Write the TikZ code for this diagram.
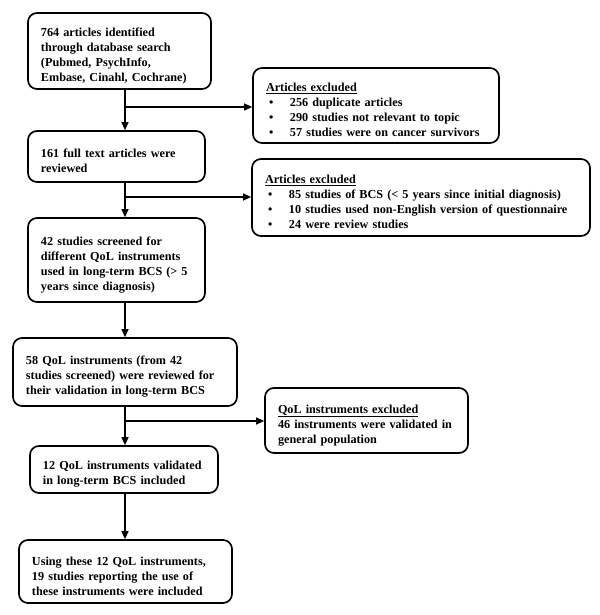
\documentclass[tikz,border=0pt]{standalone}
\usepackage{fontspec}
\setmainfont{Liberation Serif}
\usetikzlibrary{arrows.meta}
\newcommand{\bl}{\hspace*{5bp}\makebox[21bp][l]{\textbullet}}
\begin{document}
\begin{tikzpicture}[x=1bp,y=-1bp,
  box/.style={draw, line width=1.7bp, rounded corners=9bp, align=left,
    inner xsep=11bp, inner ysep=0bp, anchor=center,
    execute at begin node={\hyphenpenalty=10000\exhyphenpenalty=10000\rule{0pt}{18bp}},
    font=\fontsize{12.2bp}{15bp}\selectfont\bfseries},
  arr/.style={line width=1.2bp, -{Triangle[length=8bp,width=7bp]}}]
\useasboundingbox (0,0) rectangle (600,615);
\node[box, minimum width=183bp, minimum height=76bp, text width=161bp] (b1) at (119.5,51)
  {\hspace*{2bp}764 articles identified\\\hspace*{2bp}through database search\\\hspace*{2bp}(Pubmed, PsychInfo,\\\hspace*{2bp}Embase, Cinahl, Cochrane)};
\node[box, minimum width=177bp, minimum height=51bp, text width=155bp] (b2) at (116.5,156.5)
  {\hspace*{2bp}161 full text articles were\\\hspace*{2bp}reviewed};
\node[box, minimum width=177bp, minimum height=84bp, text width=155bp] (b3) at (116.5,260)
  {\hspace*{2bp}42 studies screened for\\\hspace*{2bp}different QoL instruments\\\hspace*{2bp}used in long-term BCS (> 5\\\hspace*{2bp}years since diagnosis)};
\node[box, minimum width=224bp, minimum height=68bp, text width=202bp] (b4) at (125,372)
  {\hspace*{2bp}58 QoL instruments (from 42\\\hspace*{2bp}studies screened) were reviewed for\\\hspace*{2bp}their validation in long-term BCS};
\node[box, minimum width=188bp, minimum height=47bp, text width=166bp] (b5) at (124,469.5)
  {\hspace*{2bp}12 QoL instruments validated\\\hspace*{2bp}in long-term BCS included};
\node[box, minimum width=213bp, minimum height=63bp, text width=191bp] (b6) at (125.5,571.5)
  {\hspace*{2bp}Using these 12 QoL instruments,\\\hspace*{2bp}19 studies reporting the use of\\\hspace*{2bp}these instruments were included};
\node[box, minimum width=246bp, minimum height=75bp, text width=224bp] (r1) at (376,105.5)
  {\hspace*{2bp}\underline{Articles excluded}\\\bl 256 duplicate articles\\\bl 290 studies not relevant to topic\\\bl 57 studies were on cancer survivors};
\node[box, minimum width=338bp, minimum height=77bp, text width=316bp] (r2) at (421,197.5)
  {\hspace*{2bp}\underline{Articles excluded}\\\bl 85 studies of BCS (< 5 years since initial diagnosis)\\\bl 10 studies used non-English version of questionnaire\\\bl 24 were review studies};
\node[box, minimum width=203bp, minimum height=65bp, text width=181bp] (r3) at (366.5,420.5)
  {\hspace*{2bp}\underline{QoL instruments excluded}\\\hspace*{2bp}46 instruments were validated in\\\hspace*{2bp}general population};
\coordinate (sp) at (125,0);
\coordinate (j1) at (125,107);
\coordinate (j2) at (125,197);
\coordinate (j3) at (125,421);
\draw[arr] (b1.south -| sp) -- (b2.north -| sp);
\draw[arr] (b2.south -| sp) -- (b3.north -| sp);
\draw[arr] (b3.south -| sp) -- (b4.north -| sp);
\draw[arr] (b4.south -| sp) -- (b5.north -| sp);
\draw[arr] (b5.south -| sp) -- (b6.north -| sp);
\draw[arr] (j1) -- (j1 -| r1.west);
\draw[arr] (j2) -- (j2 -| r2.west);
\draw[arr] (j3) -- (j3 -| r3.west);
\end{tikzpicture}
\end{document}
